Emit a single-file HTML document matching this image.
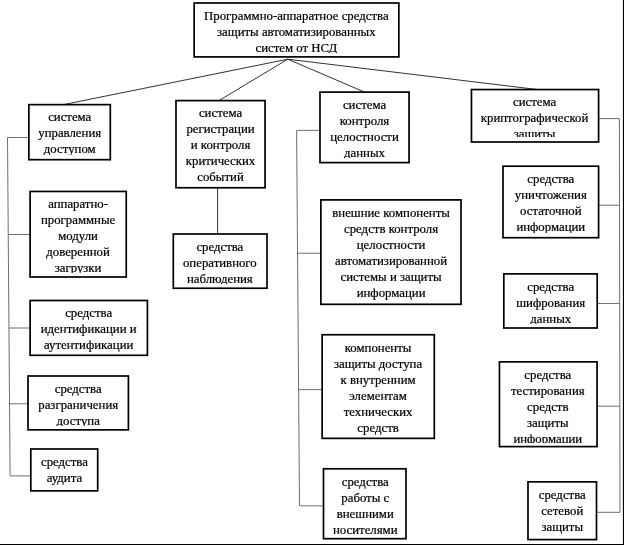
<!DOCTYPE html>
<html><head><meta charset="utf-8"><style>
html,body{margin:0;padding:0;background:#fff;}
body{width:624px;height:545px;position:relative;overflow:hidden;}
.b{position:absolute;box-sizing:border-box;}
.t{position:absolute;left:0;right:0;overflow:hidden;font-family:"Liberation Serif",serif;font-size:12.8px;line-height:15.9px;color:#000;text-align:center;white-space:nowrap;-webkit-text-stroke:0.22px #000;will-change:transform;}
svg{position:absolute;left:0;top:0;}
</style></head><body>

<svg width="624" height="545" viewBox="0 0 624 545">
<line x1="287.75" y1="59.2" x2="61.5" y2="105.0" stroke="#333" stroke-width="1"/>
<line x1="287.75" y1="59.2" x2="218.9" y2="100.6" stroke="#333" stroke-width="1"/>
<line x1="287.75" y1="59.2" x2="364.55" y2="92.1" stroke="#333" stroke-width="1"/>
<line x1="287.75" y1="59.2" x2="537.5" y2="89.55" stroke="#333" stroke-width="1"/>
<line x1="7.5" y1="137.5" x2="28.85" y2="137.5" stroke="#6f6f6f" stroke-width="1"/>
<line x1="7.5" y1="137.5" x2="10.1" y2="475.9" stroke="#6f6f6f" stroke-width="1"/>
<line x1="7.85" y1="234.5" x2="30.1" y2="234.5" stroke="#6f6f6f" stroke-width="1"/>
<line x1="8.9" y1="328.0" x2="30.1" y2="328.0" stroke="#6f6f6f" stroke-width="1"/>
<line x1="9.4" y1="403.8" x2="28.0" y2="403.8" stroke="#6f6f6f" stroke-width="1"/>
<line x1="10.1" y1="475.9" x2="30.8" y2="475.9" stroke="#6f6f6f" stroke-width="1"/>
<line x1="217.6" y1="187.75" x2="217.6" y2="234.0" stroke="#333" stroke-width="1"/>
<line x1="296.6" y1="130.4" x2="320.0" y2="130.4" stroke="#6f6f6f" stroke-width="1"/>
<line x1="296.6" y1="130.4" x2="299.5" y2="505.8" stroke="#6f6f6f" stroke-width="1"/>
<line x1="297.2" y1="253.25" x2="320.85" y2="253.25" stroke="#6f6f6f" stroke-width="1"/>
<line x1="298.5" y1="389.6" x2="322.15" y2="389.6" stroke="#6f6f6f" stroke-width="1"/>
<line x1="299.5" y1="505.8" x2="323.5" y2="505.8" stroke="#6f6f6f" stroke-width="1"/>
<line x1="598.6" y1="118.6" x2="619.4" y2="118.6" stroke="#6f6f6f" stroke-width="1"/>
<line x1="619.4" y1="118.6" x2="620.0" y2="512.3" stroke="#6f6f6f" stroke-width="1"/>
<line x1="598.6" y1="205.2" x2="619.5" y2="205.2" stroke="#6f6f6f" stroke-width="1"/>
<line x1="597.2" y1="303.5" x2="619.6" y2="303.5" stroke="#6f6f6f" stroke-width="1"/>
<line x1="597.05" y1="406.2" x2="619.7" y2="406.2" stroke="#6f6f6f" stroke-width="1"/>
<line x1="596.5" y1="512.3" x2="620.0" y2="512.3" stroke="#6f6f6f" stroke-width="1"/>
<rect x="194.15" y="3.00" width="204.70" height="53.90" fill="#fff" stroke="#000" stroke-width="1.7"/>
<rect x="28.85" y="104.65" width="81.45" height="55.05" fill="#fff" stroke="#000" stroke-width="1.7"/>
<rect x="176.00" y="100.60" width="89.05" height="87.15" fill="#fff" stroke="#000" stroke-width="1.7"/>
<rect x="320.00" y="92.10" width="89.05" height="70.50" fill="#fff" stroke="#000" stroke-width="1.7"/>
<rect x="471.45" y="89.55" width="127.15" height="52.45" fill="#fff" stroke="#000" stroke-width="1.7"/>
<rect x="503.00" y="166.20" width="95.60" height="71.50" fill="#fff" stroke="#000" stroke-width="1.7"/>
<rect x="503.80" y="273.90" width="93.40" height="54.10" fill="#fff" stroke="#000" stroke-width="1.7"/>
<rect x="499.45" y="361.85" width="97.60" height="84.75" fill="#fff" stroke="#000" stroke-width="1.7"/>
<rect x="528.00" y="481.85" width="68.50" height="57.75" fill="#fff" stroke="#000" stroke-width="1.7"/>
<rect x="30.10" y="191.45" width="96.15" height="85.55" fill="#fff" stroke="#000" stroke-width="1.7"/>
<rect x="30.10" y="300.50" width="117.30" height="54.80" fill="#fff" stroke="#000" stroke-width="1.7"/>
<rect x="28.00" y="376.00" width="100.40" height="53.85" fill="#fff" stroke="#000" stroke-width="1.7"/>
<rect x="30.80" y="449.00" width="66.90" height="41.85" fill="#fff" stroke="#000" stroke-width="1.7"/>
<rect x="173.30" y="234.00" width="93.70" height="54.25" fill="#fff" stroke="#000" stroke-width="1.7"/>
<rect x="320.85" y="199.90" width="140.15" height="104.40" fill="#fff" stroke="#000" stroke-width="1.7"/>
<rect x="322.15" y="334.75" width="112.15" height="103.60" fill="#fff" stroke="#000" stroke-width="1.7"/>
<rect x="323.50" y="468.80" width="82.50" height="69.90" fill="#fff" stroke="#000" stroke-width="1.7"/>
<line x1="623.5" y1="0" x2="623.5" y2="545" stroke="#000" stroke-width="1.2"/>
<line x1="0" y1="544.5" x2="624" y2="544.5" stroke="#000" stroke-width="1.2"/>
</svg>
<div class="t" style="left:194.15px;width:204.70px;top:8.83px;height:43.87px">Программно-аппаратное средства<br>защиты автоматизированных<br>систем от НСД</div>
<div class="t" style="left:28.85px;width:81.45px;top:110.48px;height:45.02px">система<br>управления<br>доступом</div>
<div class="t" style="left:176.00px;width:89.05px;top:106.43px;height:77.12px">система<br>регистрации<br>и контроля<br>критических<br>событий</div>
<div class="t" style="left:320.00px;width:89.05px;top:97.93px;height:60.47px">система<br>контроля<br>целостности<br>данных</div>
<div class="t" style="left:471.45px;width:127.15px;top:95.38px;height:42.42px">система<br>криптографической<br>защиты</div>
<div class="t" style="left:503.00px;width:95.60px;top:172.03px;height:61.47px">средства<br>уничтожения<br>остаточной<br>информации</div>
<div class="t" style="left:503.80px;width:93.40px;top:279.73px;height:44.07px">средства<br>шифрования<br>данных</div>
<div class="t" style="left:499.45px;width:97.60px;top:367.68px;height:74.72px">средства<br>тестирования<br>средств<br>защиты<br>информации</div>
<div class="t" style="left:528.00px;width:68.50px;top:487.68px;height:47.72px">средства<br>сетевой<br>защиты</div>
<div class="t" style="left:30.10px;width:96.15px;top:197.28px;height:75.52px">аппаратно-<br>программные<br>модули<br>доверенной<br>загрузки</div>
<div class="t" style="left:30.10px;width:117.30px;top:306.33px;height:46.47px">средства<br>идентификации и<br>аутентификации</div>
<div class="t" style="left:28.00px;width:100.40px;top:381.83px;height:43.82px">средства<br>разграничения<br>доступа</div>
<div class="t" style="left:30.80px;width:66.90px;top:454.83px;height:31.82px">средства<br>аудита</div>
<div class="t" style="left:173.30px;width:93.70px;top:239.83px;height:44.22px">средства<br>оперативного<br>наблюдения</div>
<div class="t" style="left:320.85px;width:140.15px;top:205.73px;height:94.37px">внешние компоненты<br>средств контроля<br>целостности<br>автоматизированной<br>системы и защиты<br>информации</div>
<div class="t" style="left:322.15px;width:112.15px;top:340.58px;height:93.57px">компоненты<br>защиты доступа<br>к внутренним<br>элементам<br>технических<br>средств</div>
<div class="t" style="left:323.50px;width:82.50px;top:474.63px;height:59.87px">средства<br>работы с<br>внешними<br>носителями</div>
</body></html>
